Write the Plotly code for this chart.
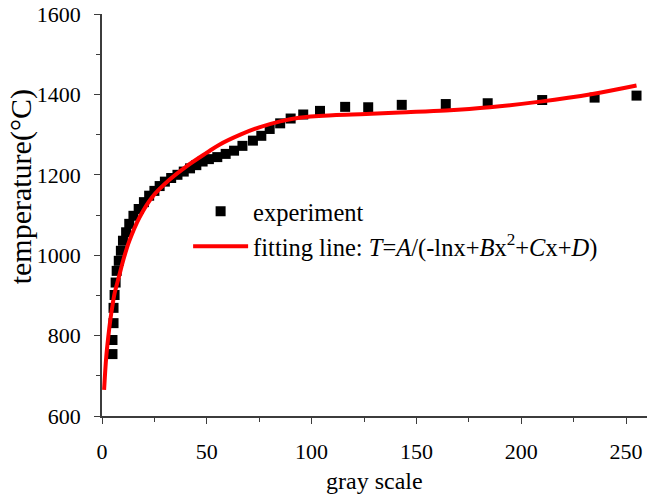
import plotly.graph_objects as go

# experimental points (gray scale, temperature °C)
exp_x = [5, 5, 5.5, 5.5, 6, 6.5, 7, 8, 9, 10, 11.5, 13, 15, 17.5, 20, 22.5, 25, 27.5,
         30, 33, 36, 39, 42, 45, 48, 51, 55, 59, 63, 67, 72, 76, 80, 85, 90, 96,
         104, 116, 127, 143, 164, 184, 210, 235, 255]
exp_y = [754, 789, 831, 869, 901, 932, 961, 986, 1011, 1036, 1057, 1078, 1098, 1115,
         1132, 1148, 1160, 1172, 1183, 1192, 1200, 1208, 1216, 1224, 1233, 1239, 1244,
         1252, 1260, 1272, 1285, 1297, 1314, 1328, 1340, 1350, 1359, 1369, 1368, 1374,
         1376, 1378, 1386, 1392, 1397]

# fitting line
fit_x = [1, 2, 3, 4, 5, 6, 8, 10, 13, 18, 24, 32, 40, 50, 56, 66, 75, 85, 94, 110,
         126, 142, 164, 185, 209, 234, 255]
fit_y = [665, 745, 797, 840, 875, 905, 945, 985, 1035, 1095, 1145, 1187, 1220, 1255,
         1275, 1300, 1318, 1333, 1342, 1348, 1351, 1355, 1360, 1368, 1382, 1401, 1422]

x_ticks = [0, 50, 100, 150, 200, 250]
y_ticks = [600, 800, 1000, 1200, 1400, 1600]

FONT = "Liberation Serif, Times New Roman, serif"
AXC = "#3c3c3c"

fig = go.Figure()
fig.add_trace(go.Scatter(
    x=exp_x, y=exp_y, mode="markers", name="experiment",
    marker=dict(symbol="square", size=10, color="black", line=dict(width=0)),
))
fig.add_trace(go.Scatter(
    x=fit_x, y=fit_y, mode="lines", line_shape="spline",
    name="fitting line: <i>T</i>=<i>A</i>/(-lnx+<i>B</i>x<sup>2</sup>+<i>C</i>x+<i>D</i>)",
    line=dict(color="#ff0000", width=4),
))

fig.update_layout(
    width=648, height=498,
    margin=dict(l=102, r=1, t=14, b=82),
    paper_bgcolor="white", plot_bgcolor="white",
    font=dict(family=FONT, size=22, color="black"),
    showlegend=True,
    legend=dict(x=0.158, y=0.565, xanchor="left", yanchor="top",
                bgcolor="rgba(0,0,0,0)", font=dict(size=24.5, family=FONT),
                itemwidth=55, tracegroupgap=0),
    xaxis=dict(range=[0, 260], tickvals=x_ticks, showgrid=False, zeroline=False,
               showline=True, linecolor=AXC, linewidth=1.5,
               ticks="outside", ticklen=6, tickwidth=1.2, tickcolor=AXC,
               minor=dict(dtick=25, tick0=0, ticks="outside", ticklen=4, tickcolor=AXC),
               tickfont=dict(size=22), ticklabelstandoff=9),
    yaxis=dict(range=[600, 1600], tickvals=y_ticks, showgrid=False, zeroline=False,
               showline=True, linecolor=AXC, linewidth=1.5,
               ticks="outside", ticklen=6, tickwidth=1.2, tickcolor=AXC,
               minor=dict(dtick=100, tick0=600, ticks="outside", ticklen=4, tickcolor=AXC),
               tickfont=dict(size=22), ticklabelstandoff=9),
    xaxis2=dict(range=[0, 260], overlaying="x", side="top", tickvals=x_ticks,
                showticklabels=False, showgrid=False, zeroline=False,
                showline=True, linecolor=AXC, linewidth=1.5,
                ticks="inside", ticklen=6, tickcolor=AXC,
                minor=dict(dtick=25, tick0=0, ticks="inside", ticklen=4, tickcolor=AXC)),
    yaxis2=dict(range=[600, 1600], overlaying="y", side="right", tickvals=y_ticks,
                showticklabels=False, showgrid=False, zeroline=False,
                showline=True, linecolor=AXC, linewidth=1.5,
                ticks="inside", ticklen=6, tickcolor=AXC,
                minor=dict(dtick=100, tick0=600, ticks="inside", ticklen=4, tickcolor=AXC)),
    annotations=[
        dict(text="gray scale", xref="paper", yref="paper", x=0.5, y=-0.162,
             xanchor="center", yanchor="middle", showarrow=False,
             font=dict(size=24, family=FONT)),
        dict(text="temperature(°C)", xref="paper", yref="paper", x=-0.147, y=0.571,
             xanchor="center", yanchor="middle", textangle=-90, showarrow=False,
             font=dict(size=30, family=FONT)),
    ],
)

fig.write_html("out.html")
